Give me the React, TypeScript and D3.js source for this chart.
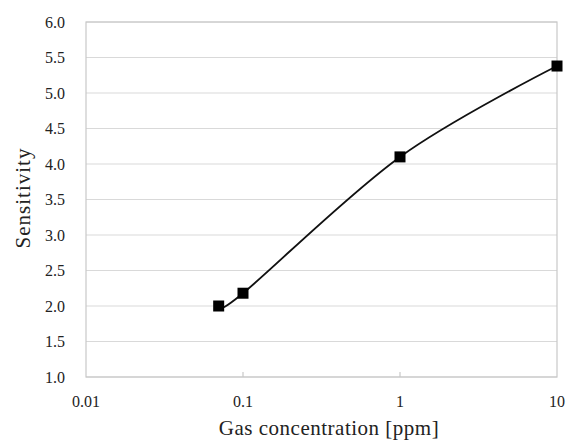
import * as d3 from "d3";
import { useEffect, useRef } from "react";

// gas concentration [ppm] vs sensitivity
const concentration = [0.07, 0.1, 1, 10];
const sensitivity = [2.0, 2.18, 4.1, 5.38];
const xTicks = [0.01, 0.1, 1, 10];
const yTicks = [1.0, 1.5, 2.0, 2.5, 3.0, 3.5, 4.0, 4.5, 5.0, 5.5, 6.0];

const App = () => {
  const ref = useRef<SVGSVGElement>(null);

  useEffect(() => {
    const svg = d3.select(ref.current);
    svg.selectAll("*").remove();

    const left = 86, right = 557, top = 22, bottom = 377;
    const font = "'Liberation Serif', 'DejaVu Serif', serif";

    const x = d3.scaleLog().domain([0.01, 10]).range([left, right]);
    const y = d3.scaleLinear().domain([1, 6]).range([bottom, top]);

    // gridlines
    svg
      .append("g")
      .selectAll("line")
      .data(yTicks)
      .join("line")
      .attr("x1", left)
      .attr("x2", right)
      .attr("y1", (d) => y(d))
      .attr("y2", (d) => y(d))
      .attr("stroke", "#d9d9d9")
      .attr("stroke-width", 1.2);

    // frame
    svg
      .append("rect")
      .attr("x", left)
      .attr("y", top)
      .attr("width", right - left)
      .attr("height", bottom - top)
      .attr("fill", "none")
      .attr("stroke", "#c8c8c8")
      .attr("stroke-width", 1.2);

    // small ticks on the bottom axis
    svg
      .append("g")
      .selectAll("line")
      .data(xTicks.slice(1, -1))
      .join("line")
      .attr("x1", (d) => x(d))
      .attr("x2", (d) => x(d))
      .attr("y1", bottom)
      .attr("y2", bottom - 5)
      .attr("stroke", "#c8c8c8")
      .attr("stroke-width", 1.2);

    // y tick labels
    svg
      .append("g")
      .selectAll("text")
      .data(yTicks)
      .join("text")
      .attr("x", 65)
      .attr("y", (d) => y(d))
      .attr("dy", "0.35em")
      .attr("text-anchor", "end")
      .attr("font-family", font)
      .attr("font-size", 16)
      .attr("fill", "#222")
      .text((d) => d.toFixed(1));

    // x tick labels
    svg
      .append("g")
      .selectAll("text")
      .data(xTicks)
      .join("text")
      .attr("x", (d) => x(d))
      .attr("y", 407)
      .attr("text-anchor", "middle")
      .attr("font-family", font)
      .attr("font-size", 16)
      .attr("fill", "#222")
      .text((d) => String(d));

    // axis titles
    svg
      .append("text")
      .attr("x", 329)
      .attr("y", 435)
      .attr("text-anchor", "middle")
      .attr("font-family", font)
      .attr("font-size", 21)
      .attr("letter-spacing", 0.5)
      .attr("fill", "#222")
      .text("Gas concentration [ppm]");

    svg
      .append("text")
      .attr("transform", "translate(30,198) rotate(-90)")
      .attr("text-anchor", "middle")
      .attr("font-family", font)
      .attr("font-size", 21)
      .attr("letter-spacing", 1)
      .attr("fill", "#222")
      .text("Sensitivity");

    const pts = concentration.map((c, i) => [c, sensitivity[i]] as [number, number]);

    // smoothed line
    const line = d3
      .line<[number, number]>()
      .x((d) => x(d[0]))
      .y((d) => y(d[1]))
      .curve(d3.curveCardinal.tension(0));

    svg
      .append("path")
      .datum(pts)
      .attr("d", line)
      .attr("fill", "none")
      .attr("stroke", "#111")
      .attr("stroke-width", 1.8);

    // square markers
    const s = 11;
    svg
      .append("g")
      .selectAll("rect")
      .data(pts)
      .join("rect")
      .attr("x", (d) => x(d[0]) - s / 2)
      .attr("y", (d) => y(d[1]) - s / 2)
      .attr("width", s)
      .attr("height", s)
      .attr("fill", "#000");
  }, []);

  return (
    <svg
      ref={ref}
      width={569}
      height={441}
      style={{ position: "absolute", left: 0, top: 0, background: "#fff" }}
    />
  );
};

export default App;
